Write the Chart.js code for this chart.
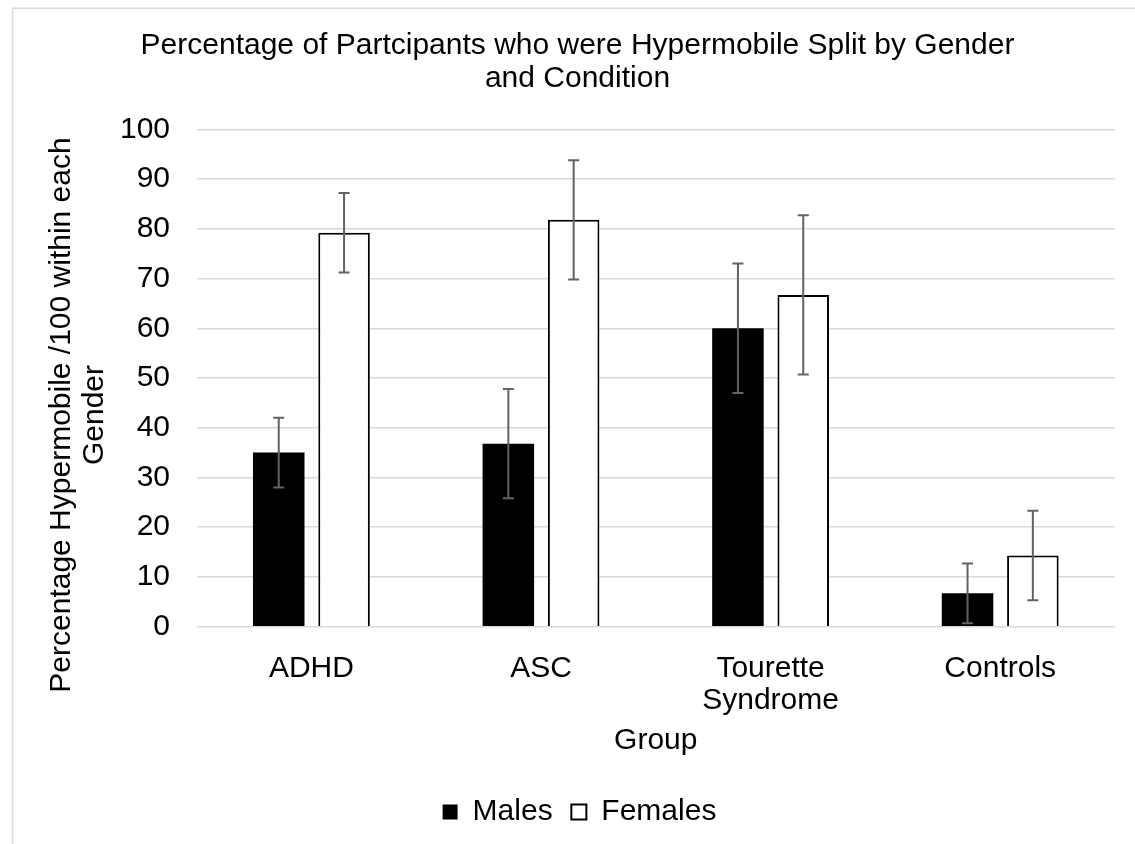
<!DOCTYPE html>
<html><head><meta charset="utf-8">
<script src="https://cdn.jsdelivr.net/npm/chart.js@4.4.1/dist/chart.umd.min.js"></script>
<style>html,body{margin:0;padding:0;background:#fff;} canvas{display:block;}</style>
</head><body>
<canvas id="c" width="1135" height="844"></canvas>
<script>
const categories = ['ADHD', 'ASC', ['Tourette', 'Syndrome'], 'Controls'];
const seriesNames = ['Males', 'Females'];
const males = [35, 36.8, 60, 6.7];
const malesError = [7, 11, 13, 6];
const females = [79.2, 81.8, 66.7, 14.3];
const femalesError = [8, 12, 16, 9];
const chartTitle = ['Percentage of Partcipants who were Hypermobile Split by Gender', 'and Condition'];
const yAxisTitle = ['Percentage Hypermobile /100 within each', 'Gender'];
const xAxisTitle = 'Group';
const yMin = 0, yMax = 100, yStep = 10;

const FONT = "'Liberation Sans', Arial, sans-serif";
Chart.defaults.font.family = FONT;
Chart.defaults.color = '#000';

const errorBarPlugin = {
  id: 'errorBars',
  afterDatasetsDraw(chart) {
    const ctx = chart.ctx, ys = chart.scales.y;
    chart.data.datasets.forEach((ds, i) => {
      const meta = chart.getDatasetMeta(i);
      meta.data.forEach((bar, j) => {
        const v = ds.data[j], e = ds.errors[j];
        const top = ys.getPixelForValue(v + e), bot = ys.getPixelForValue(v - e);
        ctx.save();
        ctx.strokeStyle = '#636363';
        ctx.lineWidth = 2;
        ctx.beginPath();
        ctx.moveTo(bar.x, top); ctx.lineTo(bar.x, bot);
        ctx.moveTo(bar.x - 5.5, top); ctx.lineTo(bar.x + 5.5, top);
        ctx.moveTo(bar.x - 5.5, bot); ctx.lineTo(bar.x + 5.5, bot);
        ctx.stroke();
        ctx.restore();
      });
    });
  }
};

function shiftDraw(obj, method, dx, dy) {
  if (!obj || obj['_shifted_' + method]) return;
  const orig = obj[method];
  obj[method] = function () {
    const c = this.ctx; c.save(); c.translate(dx, dy);
    const r = orig.apply(this, arguments); c.restore(); return r;
  };
  obj['_shifted_' + method] = true;
}

const framePlugin = {
  id: 'frame',
  beforeDraw(chart) {
    const ctx = chart.ctx;
    ctx.save();
    ctx.fillStyle = '#fff';
    ctx.fillRect(0, 0, chart.width, chart.height);
    ctx.strokeStyle = '#d9d9d9';
    ctx.lineWidth = 1.5;
    ctx.strokeRect(12.5, 8.25, chart.width + 50, chart.height + 50);
    ctx.restore();
    shiftDraw(chart.scales.y, 'drawTitle', 0, 37);
    shiftDraw(chart.legend, 'draw', 22, 0);
    shiftDraw(chart.titleBlock, 'draw', 20, 0);
  }
};

new Chart(document.getElementById('c'), {
  type: 'bar',
  data: {
    labels: categories,
    datasets: [
      { label: seriesNames[0], data: males, errors: malesError, backgroundColor: '#000', borderColor: '#000', borderWidth: 0,
        categoryPercentage: 0.569, barPercentage: 0.789 },
      { label: seriesNames[1], data: females, errors: femalesError, backgroundColor: '#fff', borderColor: '#000', borderWidth: 2,
        categoryPercentage: 0.569, barPercentage: 0.789 }
    ]
  },
  options: {
    responsive: false,
    animation: false,
    layout: { padding: { left: 0, right: 20, top: 0, bottom: 7 } },
    plugins: {
      title: { display: true, text: chartTitle, color: '#000',
        font: { size: 30, weight: 'normal', lineHeight: 1.1 }, padding: { top: 29, bottom: 34.3 } },
      legend: { position: 'bottom',
        labels: { color: '#000', font: { size: 30 }, boxWidth: 15, boxHeight: 15, padding: 18.7 } },
      tooltip: { enabled: false }
    },
    scales: {
      x: {
        grid: { display: false },
        border: { display: false },
        ticks: { color: '#000', font: { size: 30, lineHeight: 1.067 }, padding: 18, maxRotation: 0, autoSkip: false },
        title: { display: true, text: xAxisTitle, color: '#000', font: { size: 30, lineHeight: 1.1 }, padding: { top: 0, bottom: 21 } },
        afterFit(s) { s.height = 151.6; }
      },
      y: {
        min: yMin, max: yMax,
        ticks: { stepSize: yStep, color: '#000', font: { size: 30 }, padding: 26.6 },
        grid: { color: '#d9d9d9', lineWidth: 1.5, drawTicks: false },
        border: { display: false },
        title: { display: true, text: yAxisTitle, color: '#000', font: { size: 30, lineHeight: 1.1 }, padding: { top: 45.5, bottom: 0 } },
        afterFit(s) { s.width = 196.6; }
      }
    }
  },
  plugins: [framePlugin, errorBarPlugin]
});
</script>
</body></html>
